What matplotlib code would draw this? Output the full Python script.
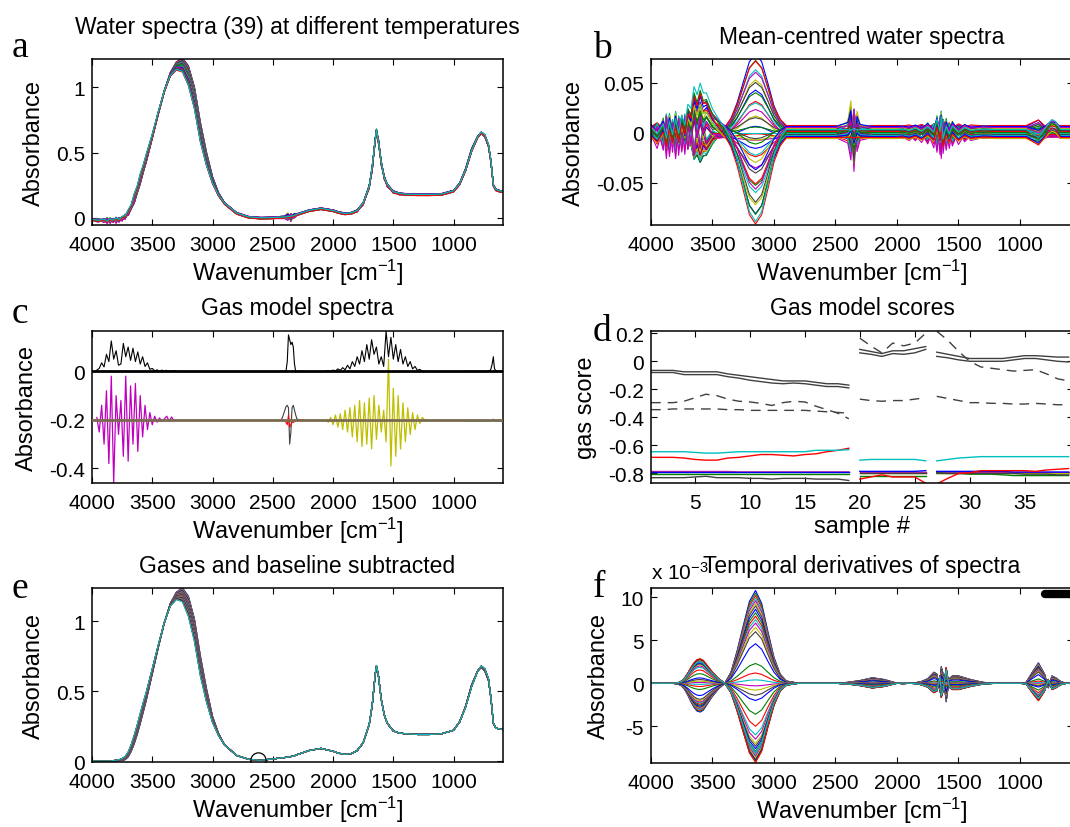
import numpy as np
import matplotlib as mpl
import matplotlib.pyplot as plt
import matplotlib.ticker as mticker
from matplotlib.lines import Line2D

# ===== 1. Data =====
# common wavenumber grid for the water spectra
wn = np.array([
    4000, 3950, 3900, 3875, 3850, 3825, 3800, 3775, 3750, 3725,
    3700, 3675, 3650, 3625, 3600, 3575, 3550, 3500, 3450, 3400,
    3350, 3300, 3250, 3200, 3150, 3100, 3050, 3000, 2950, 2900,
    2800, 2700, 2600, 2500, 2400, 2375, 2350, 2325, 2300, 2200,
    2100, 2000, 1950, 1900, 1850, 1800, 1750, 1700, 1675, 1650,
    1640, 1625, 1600, 1575, 1550, 1500, 1450, 1400, 1300, 1200,
    1100, 1000, 950, 900, 850, 800, 770, 740, 710, 690,
    670, 650, 620, 590])

# mean raw water spectrum (panel a)
mean_raw = np.array([
    -0.015, -0.017, -0.018, -0.018, -0.018, -0.016, -0.015, -0.012, -0.005, 0.010,
    0.035, 0.080, 0.140, 0.210, 0.290, 0.370, 0.450, 0.620, 0.800, 0.970,
    1.100, 1.165, 1.175, 1.095, 0.925, 0.660, 0.455, 0.290, 0.180, 0.110,
    0.035, 0.005, -0.002, 0.000, 0.005, 0.008, 0.010, 0.015, 0.025, 0.055,
    0.070, 0.055, 0.040, 0.032, 0.035, 0.055, 0.110, 0.240, 0.380, 0.600,
    0.660, 0.600, 0.420, 0.310, 0.250, 0.200, 0.185, 0.180, 0.177, 0.177,
    0.180, 0.205, 0.260, 0.370, 0.520, 0.620, 0.650, 0.625, 0.550, 0.430,
    0.250, 0.215, 0.205, 0.200])

# mean corrected spectrum (panel e)
mean_clean = np.array([
    0.000, 0.000, 0.000, 0.000, 0.000, 0.002, 0.004, 0.006, 0.010, 0.020,
    0.045, 0.090, 0.150, 0.220, 0.300, 0.380, 0.460, 0.640, 0.820, 0.990,
    1.120, 1.185, 1.195, 1.115, 0.945, 0.685, 0.475, 0.300, 0.190, 0.115,
    0.040, 0.012, 0.005, 0.015, 0.025, 0.028, 0.032, 0.036, 0.045, 0.075,
    0.090, 0.070, 0.055, 0.048, 0.052, 0.075, 0.130, 0.260, 0.400, 0.620,
    0.678, 0.620, 0.440, 0.330, 0.270, 0.215, 0.200, 0.195, 0.190, 0.190,
    0.195, 0.220, 0.280, 0.390, 0.540, 0.645, 0.675, 0.650, 0.580, 0.450,
    0.270, 0.235, 0.230, 0.225])

# temperature difference profile (extreme, cyan curve of panel b)
temp_profile = np.array([
    0.000, 0.000, 0.000, 0.000, 0.000, 0.001, 0.002, 0.004, 0.008, 0.013,
    0.020, 0.028, 0.035, 0.040, 0.042, 0.040, 0.034, 0.022, 0.010, 0.002,
    -0.010, -0.030, -0.056, -0.082, -0.092, -0.082, -0.055, -0.026, -0.009, 0.000,
    0.000, 0.000, 0.000, 0.000, 0.000, 0.000, 0.000, 0.000, 0.000, 0.000,
    0.000, 0.000, 0.000, 0.000, 0.000, 0.000, 0.000, 0.002, 0.004, 0.006,
    0.004, -0.003, -0.002, 0.000, 0.000, 0.000, 0.000, 0.000, 0.000, 0.000,
    0.000, 0.000, 0.000, -0.004, -0.008, 0.000, 0.006, 0.010, 0.008, 0.004,
    0.000, 0.000, 0.000, 0.000])

# water vapour residual pattern seen in panel b
vapour_resid = np.array([
    0.2, -0.5, 0.6, -1.0, 0.9, -0.7, 1.0, -0.9, 0.7, -1.0,
    0.6, -0.8, 0.9, -0.6, 0.5, -0.4, 0.3, -0.15, 0.05, 0.0,
    0, 0, 0, 0, 0, 0, 0, 0, 0, 0,
    0, 0, 0, 0, 0, 0, 0, 0, 0, 0,
    0, 0, 0.05, -0.1, 0.15, -0.2, 0.3, -0.5, 0.7, -0.9,
    1.0, -0.7, 0.6, -0.5, 0.4, -0.3, 0.2, -0.1, 0.05, 0,
    0, 0, 0, 0, 0, 0, 0, 0, 0, 0,
    0, 0, 0, 0])

# CO2 residual pattern seen in panel b
co2_resid = np.array([
    0, 0, 0, 0, 0, 0, 0, 0, 0, 0,
    0, 0, 0, 0, 0, 0, 0, 0, 0, 0,
    0, 0, 0, 0, 0, 0, 0, 0, 0, 0,
    0, 0, 0, 0, 0.2, 0.8, -1.0, 0.5, 0.1, 0,
    0, 0, 0, 0, 0, 0, 0, 0, 0, 0,
    0, 0, 0, 0, 0, 0, 0, 0, 0, 0,
    0, 0, 0, 0, 0, 0, 0, 0, 0, 0,
    0, 0, 0, 0])

# shape of the temporal derivative (panel f, 1 at 3150 cm-1)
deriv_profile = np.array([
    0.000, 0.000, 0.000, 0.000, 0.000, 0.000, -0.005, -0.010, -0.030, -0.070,
    -0.130, -0.200, -0.260, -0.300, -0.310, -0.290, -0.240, -0.140, -0.060, 0.000,
    0.120, 0.350, 0.620, 0.880, 1.000, 0.860, 0.560, 0.280, 0.100, 0.025,
    0.000, 0.000, 0.000, 0.000, 0.010, 0.015, 0.020, 0.025, 0.030, 0.060,
    0.040, 0.000, -0.005, 0.000, 0.005, 0.020, 0.050, 0.120, 0.100, -0.100,
    0.180, 0.100, -0.200, 0.050, 0.080, 0.080, 0.060, 0.040, 0.010, 0.000,
    0.000, 0.000, 0.010, 0.120, 0.220, 0.100, -0.050, 0.080, 0.060, 0.040,
    0.020, 0.010, 0.000, 0.000])

# per-sample temperature scores (39 spectra)
temp_score = np.array([
    -0.79, -0.74, -0.70, -0.65, -0.60, -0.55, -0.50, -0.45, -0.40, -0.35,
    -0.30, -0.25, -0.20, -0.15, -0.10, -0.06, -0.03, 0.00, 0.03, 0.06,
    0.10, 0.14, 0.18, 0.22, 0.27, 0.32, 0.37, 0.42, 0.47, 0.52,
    0.57, 0.62, 0.67, 0.72, 0.78, 0.84, 0.89, 0.94, 1.00])

# per-sample baseline offsets
base_offset = np.array([
    0.006, 0.004, 0.007, 0.003, 0.005, 0.002, 0.004, 0.001, 0.003, -0.001,
    0.002, 0.000, -0.002, 0.001, -0.003, 0.000, -0.004, -0.001, -0.005, -0.002,
    0.003, -0.003, 0.005, -0.004, 0.002, -0.006, 0.004, -0.002, 0.006, -0.005,
    0.001, -0.003, 0.005, -0.006, 0.002, -0.004, 0.000, -0.005, 0.003])

# temporal derivative amplitude at 3150 cm-1 (x 1e-3)
deriv_amp = np.array([
    10.8, 10.5, 10.2, 9.9, 9.6, 9.3, 9.0, 8.6, 8.2, 7.8,
    7.4, 7.0, 6.5, 6.0, 4.6, 2.3, 1.2, 0.4, -0.3, -0.8,
    -1.4, -2.0, -3.6, -5.0, -6.0, -6.5, -7.0, -7.3, -7.6, -7.9,
    -8.1, -8.3, -8.5, -8.7, -8.9, -9.0, -9.1, -9.2, -8.0])

# gas model spectra (panel c)
gas_hi_wn = np.arange(3960, 3290, -20)
gas_vap_hi = np.array([
    0.005, 0.012, 0.035, 0.018, 0.070, 0.040, 0.125, 0.050, 0.085, 0.025,
    0.030, 0.115, 0.060, 0.100, 0.045, 0.095, 0.040, 0.080, 0.030, 0.060,
    0.020, 0.035, 0.008, 0.012, 0.002, 0.006, 0.000, 0.005, 0.000, 0.004,
    0.000, 0.000, 0.003, 0.000])
gas_dif_hi = np.array([
    0.010, -0.050, 0.060, -0.100, 0.120, -0.180, 0.180, -0.260, 0.100, -0.060,
    0.080, -0.150, 0.180, -0.170, 0.140, -0.100, 0.150, -0.130, 0.100, -0.070,
    0.060, -0.040, 0.030, -0.020, 0.015, -0.010, 0.008, -0.006, 0.004, 0.015,
    -0.005, 0.012, -0.004, 0.000])

gas_lo_wn = np.arange(2060, 1230, -20)
gas_vap_lo = np.array([
    0.000, 0.003, 0.000, 0.005, 0.002, 0.010, 0.004, 0.015, 0.006, 0.025,
    0.010, 0.040, 0.020, 0.060, 0.030, 0.085, 0.040, 0.110, 0.050, 0.130,
    0.070, 0.100, 0.030, 0.060, 0.020, 0.165, 0.060, 0.140, 0.050, 0.110,
    0.040, 0.090, 0.030, 0.060, 0.020, 0.040, 0.010, 0.020, 0.004, 0.008,
    0.000, 0.000])
gas_dif_lo = np.array([
    0.000, -0.010, 0.010, -0.020, 0.020, -0.030, 0.025, -0.040, 0.040, -0.050,
    0.050, -0.070, 0.060, -0.090, 0.080, -0.110, 0.070, -0.100, 0.090, -0.120,
    0.100, -0.080, 0.060, -0.050, 0.040, -0.090, 0.250, -0.190, 0.130, -0.150,
    0.100, -0.120, 0.070, -0.090, 0.050, -0.060, 0.030, -0.040, 0.020, -0.015,
    0.010, 0.000])

co2_wn = np.arange(2430, 2240, -10)
co2_top = np.array([0, 0, 0, 0, 0.003, 0.04, 0.15, 0.13, 0.11, 0.12,
                    0.10, 0.03, 0, 0, 0, 0, 0, 0, 0])
co2_dif = np.array([0, 0.01, 0.025, 0.04, 0.055, 0.06, 0.05, -0.10, -0.05, 0.05,
                    0.06, 0.04, 0.02, 0.005, 0, 0, 0, 0, 0])
co2_red = np.array([0, 0, 0, -0.005, -0.01, -0.02, 0.02, -0.03, -0.02, -0.01,
                    -0.01, -0.008, -0.005, 0, 0, 0, 0, 0, 0])

low_wn = np.array([900, 720, 700, 690, 680, 670, 665, 660, 650, 640, 590])
low_top = np.array([0, 0, 0.002, 0.01, 0.03, 0.06, 0.03, 0.01, 0.003, 0, 0])
low_dif = np.array([-0.005, -0.005, -0.005, -0.005, -0.004, 0.003, -0.002,
                    -0.004, -0.005, -0.005, -0.005])

# gas model scores (panel d); samples 1-19, 20-26, 27-39
samples = np.arange(1, 40)
segments = [(0, 19), (19, 26), (26, 39)]
score_k1 = np.array([
    -0.065, -0.065, -0.065, -0.075, -0.075, -0.075, -0.075, -0.09, -0.10, -0.11,
    -0.12, -0.13, -0.14, -0.14, -0.14, -0.15, -0.16, -0.16, -0.17,
    0.085, 0.07, 0.055, 0.075, 0.075, 0.09, 0.105,
    0.065, 0.05, 0.035, 0.02, 0.02, 0.02, 0.02, 0.03, 0.04, 0.04, 0.035, 0.03, 0.03])
score_k2 = np.array([
    -0.08, -0.08, -0.08, -0.095, -0.095, -0.095, -0.095, -0.11, -0.12, -0.135,
    -0.145, -0.155, -0.16, -0.155, -0.16, -0.17, -0.18, -0.18, -0.19,
    0.06, 0.05, 0.035, 0.055, 0.05, 0.06, 0.085,
    0.035, 0.025, 0.01, 0.0, 0.0, 0.0, 0.0, 0.01, 0.02, 0.02, 0.01, 0.0, -0.005])
score_d1 = np.array([
    -0.295, -0.295, -0.295, -0.285, -0.26, -0.235, -0.245, -0.27, -0.285, -0.29,
    -0.30, -0.315, -0.295, -0.285, -0.29, -0.32, -0.345, -0.37, -0.41,
    0.165, 0.11, 0.06, 0.13, 0.11, 0.13, 0.20,
    0.215, 0.15, 0.07, 0.0, -0.04, -0.05, -0.06, -0.07, -0.065, -0.06, -0.09, -0.125, -0.14])
score_d2 = np.array([
    -0.345, -0.345, -0.34, -0.34, -0.34, -0.34, -0.34, -0.345, -0.345, -0.35,
    -0.35, -0.35, -0.35, -0.35, -0.35, -0.355, -0.36, -0.365, -0.37,
    -0.27, -0.28, -0.285, -0.28, -0.28, -0.27, -0.26,
    -0.25, -0.265, -0.28, -0.295, -0.295, -0.30, -0.30, -0.305, -0.305, -0.30, -0.305, -0.31, -0.31])
score_cyan = np.array([
    -0.645, -0.645, -0.645, -0.645, -0.65, -0.655, -0.655, -0.65, -0.645, -0.645,
    -0.645, -0.645, -0.645, -0.645, -0.645, -0.635, -0.635, -0.635, -0.63,
    -0.705, -0.70, -0.70, -0.70, -0.70, -0.70, -0.71,
    -0.71, -0.70, -0.69, -0.685, -0.68, -0.68, -0.68, -0.68, -0.68, -0.68, -0.68, -0.68, -0.68])
score_red = np.array([
    -0.685, -0.685, -0.685, -0.69, -0.70, -0.705, -0.705, -0.69, -0.685, -0.675,
    -0.665, -0.665, -0.67, -0.675, -0.665, -0.66, -0.645, -0.635, -0.62,
    -0.84, -0.825, -0.81, -0.825, -0.825, -0.825, -0.87,
    -0.875, -0.835, -0.80, -0.795, -0.78, -0.78, -0.78, -0.78, -0.78, -0.785, -0.775, -0.77, -0.765])
score_mag = np.array([-0.786] * 8 + [-0.789] * 11 + [-0.79] * 7 + [-0.79] * 13)
score_yel = np.array([-0.788] * 19 + [-0.80] * 7 + [-0.80] * 13)
score_grn = np.array([-0.805] * 19 + [-0.815] * 7 +
                     [-0.80, -0.80, -0.80, -0.805, -0.805, -0.805, -0.81,
                      -0.815, -0.815, -0.815, -0.815, -0.815, -0.815])
score_blu = np.array([-0.79] * 19 + [-0.785] * 6 + [-0.78] +
                     [-0.785] * 7 + [-0.79] * 6)
score_gry = np.array([
    -0.83, -0.83, -0.83, -0.83, -0.825, -0.82, -0.83, -0.83, -0.83, -0.835,
    -0.835, -0.84, -0.835, -0.835, -0.835, -0.84, -0.84, -0.84, -0.85,
    -0.795, -0.795, -0.795, -0.795, -0.795, -0.795, -0.795,
    -0.795, -0.80, -0.80, -0.80, -0.80, -0.80, -0.80, -0.80, -0.805, -0.805, -0.805, -0.81, -0.81])

# marked point in panel e
mark_wn = [2625]
mark_abs = [0.006]

# ===== 2. Build the sample spectra =====
vap_coef = 0.15 * (score_k1 - score_k1.mean())
co2_coef = 0.10 * (score_d1 - score_d1.mean())
centred = (temp_score[:, None] * temp_profile[None, :]
           + base_offset[:, None]
           + vap_coef[:, None] * vapour_resid[None, :]
           + co2_coef[:, None] * co2_resid[None, :])
raw = mean_raw[None, :] + centred
clean = mean_clean[None, :] + temp_score[:, None] * temp_profile[None, :]
deriv = deriv_amp[:, None] * deriv_profile[None, :]

# ===== 3. Style =====
mpl.rcParams.update({
    "font.family": "Liberation Sans",
    "font.size": 15,
    "axes.unicode_minus": False,
    "mathtext.fontset": "custom",
    "mathtext.rm": "Liberation Sans",
    "mathtext.it": "Liberation Sans:italic",
})

mcol = ["#0000ff", "#008000", "#ff0000", "#00bfbf", "#bf00bf", "#bfbf00", "#404040"]
W, H = 1070, 828


def box(px_left, px_right, px_top, px_bottom):
    return [px_left / W, 1 - px_bottom / H, (px_right - px_left) / W, (px_bottom - px_top) / H]


def style(ax, title, pad, xlabel="Wavenumber [cm$^{-1}$]", ylabel="Absorbance"):
    ax.tick_params(direction="in", top=True, right=True, length=4, width=0.8,
                   labelsize=15, pad=5)
    ax.tick_params(axis="x", pad=7)
    for sp in ax.spines.values():
        sp.set_linewidth(1.1)
    ax.set_title(title, fontsize=16.5, pad=pad)
    ax.set_xlabel(xlabel, fontsize=17, labelpad=2)
    ax.set_ylabel(ylabel, fontsize=17, labelpad=8)
    ax.yaxis.set_major_formatter(mticker.FormatStrFormatter("%g"))


def spectra_axes(ax, right):
    ax.set_xlim(4000, right)
    ax.set_xticks([4000, 3500, 3000, 2500, 2000, 1500, 1000])


fig = plt.figure(figsize=(W / 100, H / 100), dpi=100)

# ----- a -----
ax = fig.add_axes(box(92, 503, 60, 226))
for i in range(len(temp_score)):
    ax.plot(wn, raw[i], color=mcol[i % 7], lw=0.8)
spectra_axes(ax, 590)
ax.set_ylim(-0.054, 1.217)
ax.set_yticks([0, 0.5, 1])
style(ax, "Water spectra (39) at different temperatures", 18.5)

# ----- b -----
ax = fig.add_axes(box(651, 1073, 60, 226))
for i in range(len(temp_score)):
    ax.plot(wn, centred[i], color=mcol[i % 7], lw=0.8)
spectra_axes(ax, 569)
ax.set_ylim(-0.0925, 0.0735)
ax.set_yticks([0.05, 0, -0.05])
style(ax, "Mean-centred water spectra", 11.5)

# ----- c -----
gas_offset = -0.2
ax = fig.add_axes(box(92, 503, 332, 484))
ax.plot(gas_hi_wn, gas_vap_hi, color="k", lw=0.8)
ax.plot(gas_lo_wn, gas_vap_lo, color="k", lw=0.8)
ax.plot(co2_wn, co2_top, color="k", lw=0.8)
ax.plot(low_wn, low_top, color="k", lw=0.8)
ax.plot(gas_hi_wn, gas_offset + gas_dif_hi, color=mcol[4], lw=0.9)
ax.plot(gas_lo_wn, gas_offset + gas_dif_lo, color=mcol[5], lw=0.9)
ax.plot(co2_wn, gas_offset + co2_dif, color=mcol[6], lw=0.8)
ax.plot(co2_wn, gas_offset + co2_red, color=mcol[2], lw=0.8)
ax.plot(low_wn, gas_offset + low_dif, color=mcol[3], lw=0.9)
ax.axhline(0, color="k", lw=2.0, zorder=3)
ax.axhline(gas_offset, color="#7a6a4f", lw=2.0, zorder=3)
spectra_axes(ax, 590)
ax.set_ylim(-0.46, 0.166)
ax.set_yticks([0, -0.2, -0.4])
style(ax, "Gas model spectra", 12)

# ----- d -----
ax = fig.add_axes(box(651, 1073, 332, 484))
score_series = [
    (score_mag, mcol[4], "-"), (score_yel, mcol[5], "-"), (score_blu, mcol[0], "-"),
    (score_grn, mcol[1], "-"), (score_gry, mcol[6], "-"), (score_red, mcol[2], "-"),
    (score_cyan, mcol[3], "-"), (score_k1, mcol[6], "-"), (score_k2, mcol[6], "-"),
    (score_d1, mcol[6], (0, (7, 5))), (score_d2, mcol[6], (0, (7, 5))),
]
for vals, col, ls in score_series:
    for start, stop in segments:
        ax.plot(samples[start:stop], vals[start:stop], color=col, ls=ls, lw=1.0)
ax.set_xlim(1, 39.4)
ax.set_xticks([5, 10, 15, 20, 25, 30, 35])
ax.set_ylim(-0.868, 0.216)
ax.set_yticks([0.2, 0, -0.2, -0.4, -0.6, -0.8])
style(ax, "Gas model scores", 12, xlabel="sample #", ylabel="gas score")

# ----- e -----
ax = fig.add_axes(box(92, 503, 589, 763))
for i in range(len(temp_score)):
    ax.plot(wn, clean[i], color=mcol[i % 7], lw=0.8)
ax.plot(mark_wn, mark_abs, "o", mfc="none", mec="k", ms=11, mew=0.9)
spectra_axes(ax, 590)
ax.set_ylim(-0.007, 1.238)
ax.set_yticks([0, 0.5, 1])
style(ax, "Gases and baseline subtracted", 11.5)

# ----- f -----
ax = fig.add_axes(box(651, 1073, 589, 764))
for i in range(len(deriv_amp)):
    ax.plot(wn, deriv[i], color=mcol[i % 7], lw=0.8)
spectra_axes(ax, 569)
ax.set_ylim(-9.27, 11.08)
ax.set_yticks([10, 5, 0, -5])
style(ax, "Temporal derivatives of spectra", 11.5)
ax.text(0.0, 1.055, "x 10$^{-3}$", transform=ax.transAxes, fontsize=15,
        ha="left", va="baseline")
ax.legend(handles=[Line2D([], [], color="k", lw=6, solid_capstyle="round")],
          labels=[" "], loc="upper left", bbox_to_anchor=(0.934, 0.99),
          frameon=False, borderpad=0, borderaxespad=0, handlelength=3, fontsize=8)

# ----- panel letters -----
for letter, x, y in [("a", 12, 57), ("b", 593, 58), ("c", 12, 323),
                     ("d", 593, 341), ("e", 12, 598), ("f", 593, 597)]:
    fig.text(x / W, 1 - y / H, letter, family="Liberation Serif", fontsize=27,
             ha="left", va="baseline")

fig.savefig("out.png", dpi=100)
